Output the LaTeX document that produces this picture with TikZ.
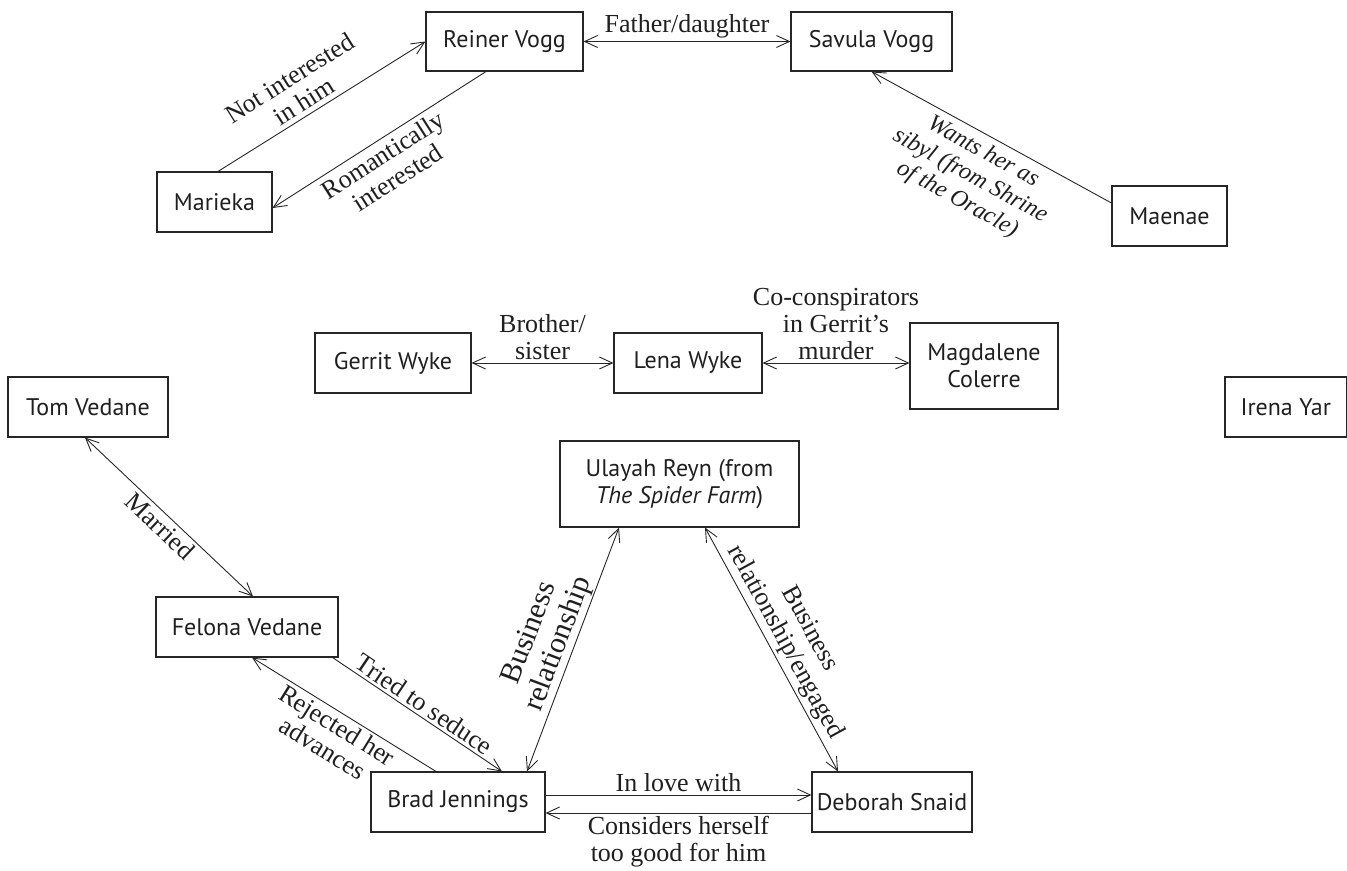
\documentclass[tikz,border=0pt]{standalone}
\usepackage{fontspec}
\setmainfont{Liberation Serif}
\newfontfamily\nodefont{PT Sans}
\usetikzlibrary{arrows.meta,calc}
\begin{document}
\begin{tikzpicture}[x=0.5pt,y=-0.5pt,
  box/.style={draw=black!85, line width=0.55pt, inner sep=0pt, align=center, text=black!88,
    font=\nodefont\fontsize{12}{13.5}\selectfont, minimum height=30pt},
  lab/.style={font=\fontsize{13}{13.5}\selectfont, align=center, text=black!88, inner sep=1.5pt},
  rel/.style={draw=black!85, line width=0.45pt},
  oneway/.style={-{Straight Barb[length=6.5pt,width=6pt]}},
  twoway/.style={{Straight Barb[length=6.5pt,width=6pt]}-{Straight Barb[length=6.5pt,width=6pt]}},
]
\useasboundingbox (0,0) rectangle (1347,871);

% nodes
\node[box, minimum width=78.5pt, minimum height=29.5pt] (reiner) at (504.5,41.5) {Reiner Vogg};
\node[box, minimum width=80.5pt, minimum height=29.5pt] (savula) at (871.5,41.5) {Savula Vogg};
\node[box, minimum width=57.5pt] (marieka) at (214.5,202) {Marieka};
\node[box, minimum width=57.5pt] (maenae) at (1169.5,216) {Maenae};
\node[box, minimum width=78pt] (gerrit) at (393,363) {Gerrit Wyke};
\node[box, minimum width=74pt] (lena) at (688,363) {Lena Wyke};
\node[box, minimum width=74pt, minimum height=43pt] (magdalene) at (984,366) {Magdalene\\Colerre};
\node[box, minimum width=80pt] (tom) at (88,407) {Tom Vedane};
\node[box, minimum width=60.75pt] (irena) at (1285.75,407) {Irena Yar};
\node[box, minimum width=119.5pt, minimum height=43pt] (ulayah) at (679.5,484) {Ulayah Reyn (from\\\textit{The Spider Farm})};
\node[box, minimum width=91pt] (felona) at (247,627) {Felona Vedane};
\node[box, minimum width=87pt] (brad) at (458,802) {Brad Jennings};
\node[box, minimum width=80pt] (deborah) at (892,802) {Deborah Snaid};

% connectors
\draw[rel,oneway] ([shift={(3.5,0)}]marieka.north) -- node[lab,sloped,above,pos=0.45,inner sep=2.5pt]{Not interested\\in him} (reiner.west);
\draw[rel,oneway] ([shift={(-18.5,0)}]reiner.south) -- node[lab,sloped,below,pos=0.52,inner sep=2.5pt]{Romantically\\interested} ([shift={(0,6)}]marieka.east);
\draw[rel,twoway] (reiner.east) -- node[lab,above]{Father/daughter} (savula.west);
\draw[rel,oneway] ([shift={(0,-13)}]maenae.west) -- node[lab,sloped,below,pos=0.5,inner sep=3pt,
  font=\fontsize{12}{13.5}\selectfont\itshape]{Wants her as\\sibyl (from Shrine\\of the Oracle)} (savula.south);
\draw[rel,twoway] (gerrit.east) -- node[lab,above]{Brother/\\sister} (lena.west);
\draw[rel,twoway] (lena.east) -- node[lab,above]{Co-conspirators\\in Gerrit’s\\murder} (lena.east -| magdalene.west);
\draw[rel,twoway] ([shift={(-3,0)}]tom.south) -- node[lab,sloped,below,font=\fontsize{13}{14}\selectfont]{Married} ([shift={(6,0)}]felona.north);
\draw[rel,oneway] ([shift={(-6,0)}]felona.south east) -- node[lab,sloped,above]{Tried to seduce} ([shift={(44,0)}]brad.north);
\draw[rel,oneway] ([shift={(-22,0)}]brad.north) -- node[lab,sloped,below]{Rejected her\\advances} ([shift={(5,0)}]felona.south);
\draw[rel,twoway] ([shift={(69,0)}]brad.north) -- node[lab,sloped,above,inner sep=0.5pt,
  font=\fontsize{15}{15.5}\selectfont]{Business\\relationship} ([shift={(-60.5,0)}]ulayah.south);
\draw[rel,twoway] ([shift={(25.5,0)}]ulayah.south) -- node[lab,sloped,above,
  font=\fontsize{13}{14}\selectfont]{Business\\relationship/engaged} ([shift={(-54,0)}]deborah.north);
\draw[rel,oneway] ([shift={(0,-7)}]brad.east) -- node[lab,above]{In love with} ([shift={(0,-7)}]brad.east -| deborah.west);
\draw[rel,oneway] ([shift={(0,11)}]deborah.west) -- node[lab,below]{Considers herself\\too good for him} ([shift={(0,11)}]deborah.west -| brad.east);
\end{tikzpicture}
\end{document}
